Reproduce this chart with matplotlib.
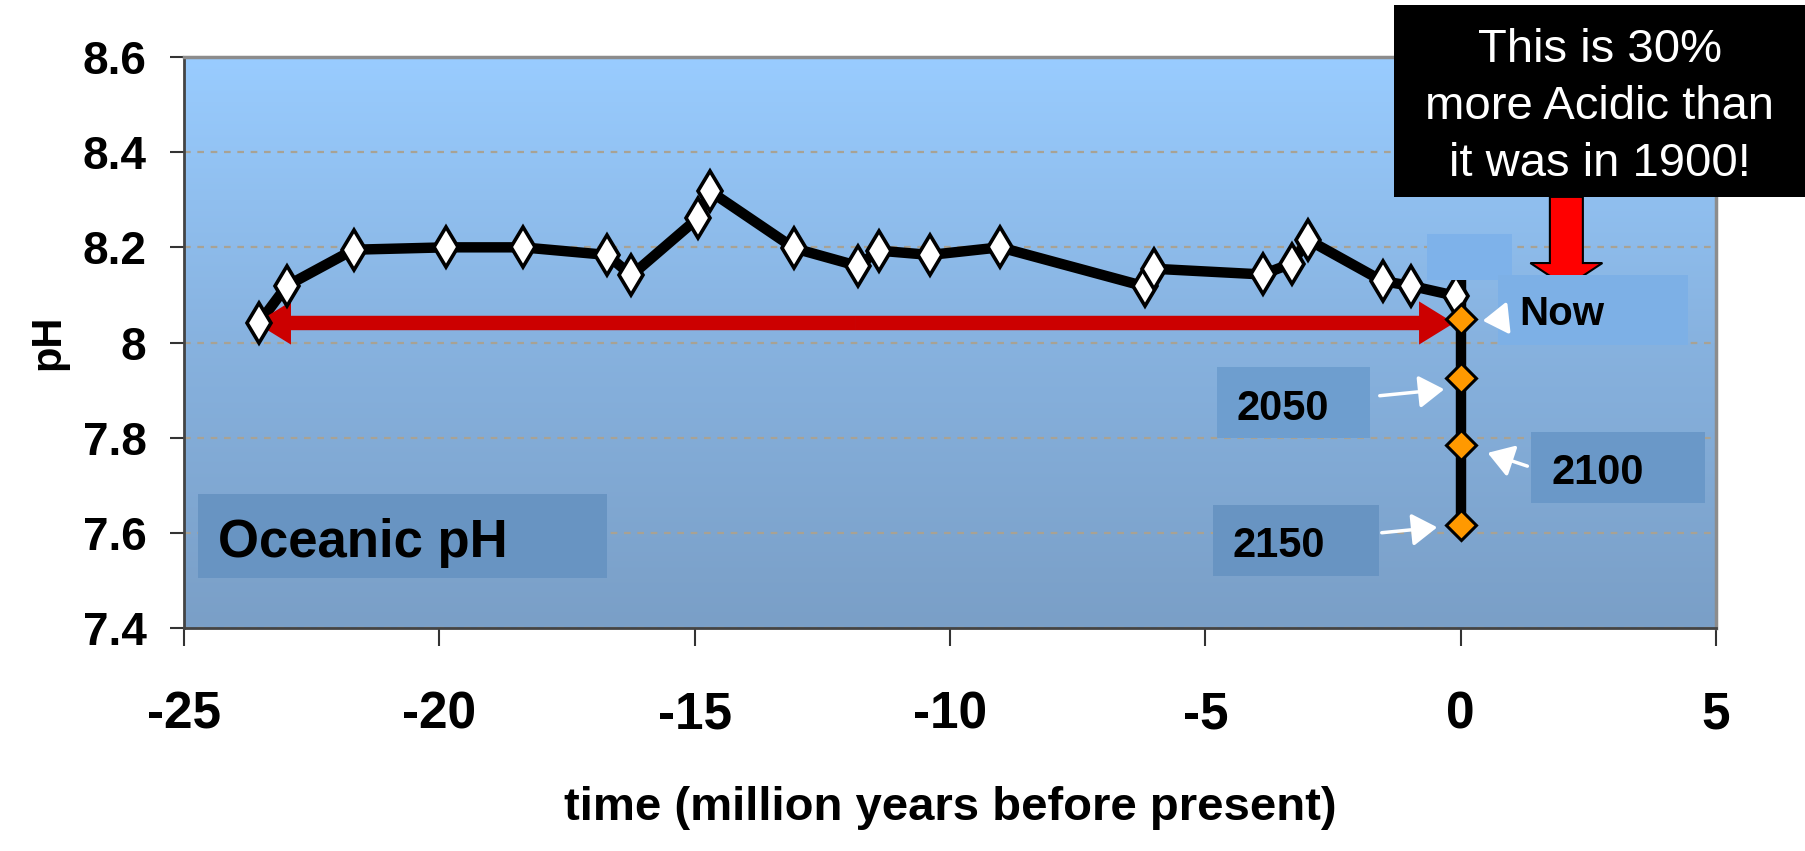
import numpy as np
import matplotlib
matplotlib.use('Agg')
import matplotlib.pyplot as plt
from matplotlib.patches import Rectangle, FancyArrowPatch, FancyArrow
from matplotlib.colors import LinearSegmentedColormap

W, H = 1806, 851

# past record: time (million years before present) and pH
past_time = [-23.53, -22.99, -21.68, -19.86, -18.37, -16.71, -16.24, -14.94, -14.70,
             -13.05, -11.81, -11.39, -10.39, -9.02, -6.19, -6.01, -3.88, -3.31,
             -2.99, -1.53, -0.97, -0.10]
past_ph = [8.041, 8.119, 8.195, 8.200, 8.200, 8.184, 8.141, 8.261, 8.318,
           8.198, 8.161, 8.193, 8.184, 8.200, 8.118, 8.155, 8.143, 8.166,
           8.216, 8.129, 8.119, 8.098]

# present and projections
future_labels = ['Now', '2050', '2100', '2150']
future_time = [0, 0, 0, 0]
future_ph = [8.05, 7.925, 7.785, 7.617]
future_line_top = 8.128

xticks = [-25, -20, -15, -10, -5, 0, 5]
yticks = [7.4, 7.6, 7.8, 8.0, 8.2, 8.4, 8.6]
ytick_labels = ['7.4', '7.6', '7.8', '8', '8.2', '8.4', '8.6']

callout_lines = ['This is 30%', 'more Acidic than', 'it was in 1900!']

narrow = ['Liberation Sans Narrow', 'Liberation Sans', 'DejaVu Sans']
arial = ['Liberation Sans', 'DejaVu Sans']


def fx(x):
    return x / W


def fy(y):
    return 1 - y / H


def fbox(fig, x0, y0, x1, y1, color, z=2):
    fig.add_artist(Rectangle((fx(x0), fy(y1)), (x1 - x0) / W, (y1 - y0) / H,
                             transform=fig.transFigure, facecolor=color,
                             edgecolor='none', zorder=z))


def fla(fig, xa, ya, xb, yb):
    fig.add_artist(FancyArrowPatch((fx(xa), fy(ya)), (fx(xb), fy(yb)),
                                   transform=fig.transFigure,
                                   arrowstyle='-|>,head_length=0.7,head_width=0.45',
                                   mutation_scale=22, lw=2.5, color='white', zorder=4))


fig = plt.figure(figsize=(W / 100, H / 100), dpi=100)
fig.patch.set_facecolor('white')
ax = fig.add_axes([fx(184), fy(628), 1532 / W, 571 / H])

# background gradient
cmap = LinearSegmentedColormap.from_list('bg', ['#7A9FC7', '#87B2DF', '#99CCFF'])
grad = np.linspace(0, 1, 256).reshape(-1, 1)
ax.imshow(grad, extent=[0, 1, 0, 1], transform=ax.transAxes, aspect='auto',
          cmap=cmap, origin='lower', zorder=0)

ax.set_xlim(-25, 5)
ax.set_ylim(7.4, 8.6)
ax.set_axisbelow(True)
ax.yaxis.grid(True, linestyle=(0, (3, 3)), color='#A8A294', lw=1.6)

# data line
ax.plot(past_time + [future_time[0]], past_ph + [future_ph[0]], color='black',
        lw=7.5, zorder=3)
ax.plot([future_time[0], future_time[-1]], [future_line_top, future_ph[-1]],
        color='black', lw=7.5, zorder=3)
ax.plot(past_time, past_ph, linestyle='none', marker='d', markersize=20,
        markerfacecolor='white', markeredgecolor='black', markeredgewidth=2.6, zorder=5)
ax.plot(future_time, future_ph, linestyle='none', marker='D', markersize=15,
        markerfacecolor='#FF9900', markeredgecolor='black', markeredgewidth=2.2, zorder=5)

# red double arrow across the record
a_left, a_right, a_y = -23.59, -0.13, 8.041
a_mid = (a_left + a_right) / 2
for end in (a_left, a_right):
    ax.add_patch(FancyArrow(a_mid, a_y, end - a_mid, 0, width=0.0303,
                            head_width=0.0908, head_length=0.685,
                            length_includes_head=True, color='#CC0000',
                            lw=0, zorder=4))

# red down arrow under the callout
ax.add_patch(FancyArrow(2.07, 8.306, 0, 8.117 - 8.306, width=0.646, head_width=1.41,
                        head_length=0.050, length_includes_head=True,
                        facecolor='#FF0000', edgecolor='black', lw=1.5, zorder=4))

ax.set_xticks(xticks)
ax.set_xticklabels([str(t) for t in xticks])
ax.set_yticks(yticks)
ax.set_yticklabels(ytick_labels)
ax.tick_params(axis='y', direction='out', length=10, width=1.5, pad=17,
               color='#333333', labelsize=33)
ax.tick_params(axis='x', direction='out', length=13, width=1.5, pad=32,
               color='#333333', labelsize=37)
for lab in ax.get_xticklabels() + ax.get_yticklabels():
    lab.set_family(narrow)
    lab.set_fontweight('bold')

for s in ['top', 'right']:
    ax.spines[s].set_color('#8C8C8C')
    ax.spines[s].set_linewidth(2.5)
for s in ['left', 'bottom']:
    ax.spines[s].set_color('#444444')
    ax.spines[s].set_linewidth(2)

fig.text(fx(950), fy(808), 'time (million years before present)', ha='center',
         va='center', fontsize=34, fontweight='bold', family=narrow)
fig.text(fx(48), fy(342), 'pH', ha='center', va='center', rotation=90,
         fontsize=30, fontweight='bold', family=arial)

# annotation boxes
fbox(fig, 198, 494, 607, 578, '#6894C2')
fig.text(fx(218), fy(557), 'Oceanic pH', fontsize=38, fontweight='bold',
         family=arial, va='baseline', zorder=3)

fbox(fig, 1427, 234, 1512, 280, '#7EB2EA')
fbox(fig, 1498, 275, 1688, 345, '#7DB0E6')
fig.text(fx(1519), fy(325), future_labels[0], fontsize=29, fontweight='bold',
         family=arial, va='baseline', zorder=3)

fbox(fig, 1217, 367, 1370, 438, '#6E9ECF')
fig.text(fx(1237), fy(420), future_labels[1], fontsize=30, fontweight='bold',
         family=arial, va='baseline', zorder=3)

fbox(fig, 1531, 432, 1705, 503, '#6A98C8')
fig.text(fx(1552), fy(484), future_labels[2], fontsize=30, fontweight='bold',
         family=arial, va='baseline', zorder=3)

fbox(fig, 1213, 505, 1379, 576, '#6894C2')
fig.text(fx(1233), fy(557), future_labels[3], fontsize=30, fontweight='bold',
         family=arial, va='baseline', zorder=3)

fla(fig, 1377, 396, 1447, 389)
fla(fig, 1530, 467, 1485, 452)
fla(fig, 1379, 533, 1440, 527)
fla(fig, 1499, 319, 1480, 321)

# black callout
fbox(fig, 1394, 5, 1806, 197, 'black', z=3)
for line, base in zip(callout_lines, [62, 119, 176]):
    fig.text(fx(1600), fy(base), line, ha='center', va='baseline', fontsize=34,
             color='white', family=arial, zorder=4)

fig.savefig('out.png', dpi=100, facecolor='white')
